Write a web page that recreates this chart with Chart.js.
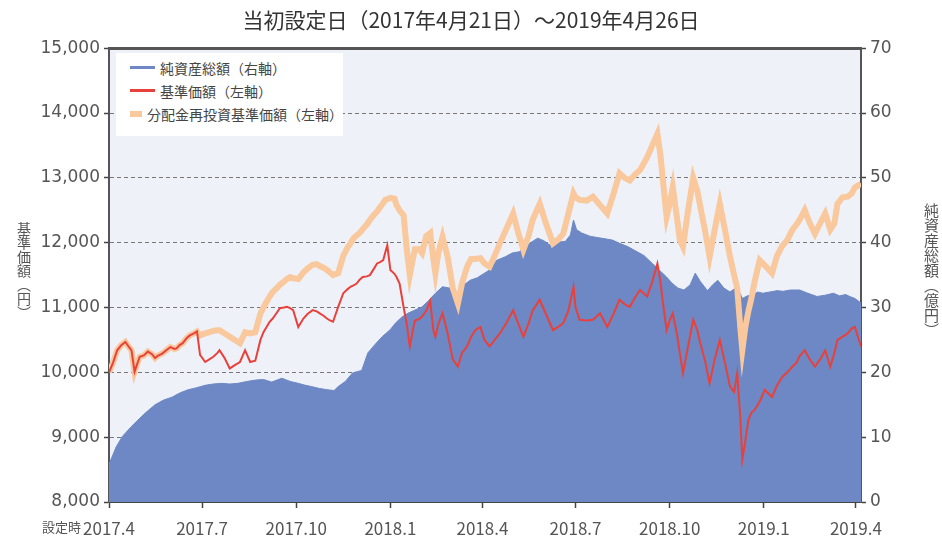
<!DOCTYPE html>
<html lang="ja">
<head>
  <meta charset="UTF-8" />
  <title>基準価額・純資産総額の推移</title>
  <script src="https://cdn.jsdelivr.net/npm/chart.js"></script>
  <style>
    body {
      margin: 0;
      background: #fff;
      font-family: "Noto Sans CJK JP", sans-serif;
    }

    .wrap {
      position: relative;
      width: 942px;
      height: 538px;
    }

    .legend {
      position: absolute;
      left: 116px;
      top: 53px;
      width: 227px;
      height: 83px;
      padding-top: 3px;
      box-sizing: border-box;
      background: #fff;
    }

    .legend-item {
      display: flex;
      align-items: center;
      height: 23px;
      padding-left: 14px;
      font-size: 14px;
      color: #444;
      white-space: nowrap;
    }

    .legend-item .swatch {
      display: inline-block;
      width: 25px;
      margin-right: 5px;
    }

    .axis-title {
      position: absolute;
      writing-mode: vertical-rl;
      color: #555;
    }

    .start-label {
      position: absolute;
      left: 42px;
      top: 520px;
      font-size: 13px;
      line-height: 1;
      color: #555;
    }
  </style>
</head>
<body>
  <div class="wrap">
    <canvas id="chart" width="942" height="538"></canvas>
    <div class="legend" id="legend"></div>
    <div class="axis-title" style="left: 14px; top: 222px; font-size: 14px;">基準価額（円）</div>
    <div class="axis-title" style="left: 921px; top: 203px; font-size: 15px;">純資産総額（億円）</div>
    <div class="start-label">設定時</div>
  </div>

  <script>
    // 設定日(2017/4/21)からの経過日数
    const lineDays = [0, 4, 8, 12, 16, 20, 22, 25, 28, 30, 34, 38, 42, 45, 48, 52, 56, 60, 64, 66,
      69, 72, 76, 79, 83, 86, 89, 94, 98, 102, 106, 108, 113, 118, 123, 128, 133, 138, 143, 148,
      151, 154, 157, 160, 164, 167, 171, 174, 177, 180, 185, 190, 194, 199, 203, 206, 210, 213, 216, 219,
      224, 229, 233, 236, 239, 242, 245, 248, 252, 255, 259, 262, 265, 268, 270, 272, 275, 279, 281, 284,
      288, 291, 294, 297, 299, 303, 306, 310, 314, 317, 319, 322, 326, 331, 336, 341, 345, 350, 354, 358,
      363, 367, 372, 377, 382, 388, 395, 400, 405, 410, 414, 421, 427, 434, 439, 444, 449, 454, 456, 460,
      467, 473, 480, 487, 493, 499, 504, 509, 514, 519, 526, 531, 536, 539, 541, 545, 548, 551, 555, 558,
      561, 566, 571, 575, 578, 583, 587, 592, 597, 602, 607, 611, 614, 617, 619, 622, 625, 628, 631, 636,
      641, 644, 648, 653, 658, 663, 668, 672, 675, 680, 685, 690, 695, 700, 705, 709, 712, 717, 722, 726,
      729, 732, 735];

    // 基準価額(円)
    const priceValues = [10000, 10150, 10340, 10420, 10470, 10380, 10340, 10010, 10150, 10240,
      10260, 10320, 10280, 10220, 10260, 10290, 10340, 10390, 10360, 10370,
      10420, 10450, 10530, 10570, 10600, 10630, 10270, 10160, 10200, 10240,
      10300, 10340, 10220, 10060, 10110, 10160, 10340, 10160, 10180, 10500,
      10620, 10700, 10780, 10830, 10920, 10990, 11000, 11010, 10990, 10960,
      10700, 10830, 10900, 10960, 10940, 10910, 10870, 10830, 10800, 10780,
      11010, 11220, 11280, 11320, 11340, 11370, 11430, 11470, 11480, 11500,
      11600, 11680, 11700, 11730, 11850, 11960, 11580, 11520, 11470, 11370,
      11000, 10750, 10400, 10650, 10800, 10820, 10860, 10950, 11100, 10650,
      10550, 10750, 10910, 10600, 10200, 10090, 10300, 10400, 10550, 10650,
      10700, 10500, 10400, 10500, 10600, 10750, 10960, 10750, 10550, 10750,
      10950, 11120, 10900, 10650, 10700, 10760, 10950, 11320, 11000, 10810,
      10800, 10810, 10910, 10700, 10900, 11120, 11050, 11010, 11150, 11270,
      11170, 11400, 11680, 11400, 11120, 10650, 10800, 10910, 10600, 10290,
      9990, 10400, 10810, 10650, 10450, 10150, 9830, 10200, 10500, 10150,
      9780, 9700, 9990, 9300, 8650, 8950, 9270, 9380, 9420, 9550,
      9730, 9680, 9620, 9800, 9930, 10000, 10090, 10150, 10250, 10340,
      10200, 10090, 10200, 10340, 10090, 10300, 10500, 10550, 10600, 10680,
      10700, 10550, 10400];

    // 分配金再投資基準価額(円)
    const reinvestValues = [10000, 10150, 10340, 10420, 10470, 10380, 10340, 10010, 10150, 10240,
      10260, 10320, 10280, 10220, 10260, 10290, 10340, 10390, 10360, 10370,
      10420, 10450, 10530, 10570, 10600, 10630, 10570, 10600, 10620, 10640,
      10650, 10650, 10600, 10550, 10500, 10450, 10620, 10600, 10620, 10910,
      11000, 11090, 11170, 11240, 11300, 11350, 11400, 11440, 11470, 11450,
      11440, 11540, 11600, 11660, 11670, 11640, 11610, 11580, 11540, 11500,
      11530, 11800, 11920, 11990, 12070, 12110, 12150, 12210, 12280, 12350,
      12430, 12480, 12550, 12610, 12660, 12670, 12690, 12680, 12580, 12500,
      12420, 11900, 11500, 11750, 11900, 11900, 11840, 12100, 12150, 11750,
      11530, 11850, 12090, 11780, 11300, 11060, 11370, 11630, 11750, 11750,
      11760, 11680, 11630, 11800, 11990, 12200, 12450, 12150, 11890, 12100,
      12350, 12600, 12300, 11990, 12050, 12140, 12450, 12760, 12700, 12660,
      12650, 12710, 12580, 12450, 12750, 13070, 13000, 12960, 13050, 13120,
      13320, 13500, 13680, 13350, 13020, 12400, 12600, 12860, 12400, 12040,
      11940, 12500, 13000, 12800, 12550, 12150, 11780, 12200, 12600, 12200,
      11780, 11500, 11300, 10700, 10340, 10700, 10950, 11150, 11400, 11730,
      11650, 11600, 11530, 11800, 11950, 12040, 12200, 12280, 12350, 12500,
      12300, 12140, 12300, 12450, 12200, 12300, 12600, 12700, 12710, 12760,
      12850, 12880, 12910];

    // 純資産総額(億円)
    const navDays = [0, 1, 7, 13, 21, 28, 36, 45, 53, 62, 69, 77, 85, 94, 102, 110, 118, 126, 135, 143,
      151, 159, 169, 177, 185, 192, 198, 206, 214, 220, 224, 231, 238, 247, 253, 260, 267, 275, 280, 286,
      292, 299, 306, 312, 319, 326, 333, 340, 347, 353, 360, 367, 372, 379, 387, 394, 401, 407, 412, 419,
      425, 433, 439, 446, 451, 454, 457, 462, 470, 477, 485, 492, 499, 507, 515, 523, 531, 539, 545, 550,
      556, 562, 568, 573, 578, 585, 590, 595, 601, 607, 614, 619, 624, 629, 634, 639, 646, 653, 659, 666,
      675, 683, 692, 700, 708, 714, 720, 724, 729, 735];
    const navValues = [6.0, 6.2, 8.5, 10.1, 11.5, 12.6, 13.8, 15.0, 15.7, 16.2, 16.8, 17.3, 17.6, 18.0, 18.2, 18.3, 18.2, 18.3, 18.6, 18.8,
      18.9, 18.5, 19.1, 18.6, 18.3, 18.0, 17.8, 17.5, 17.3, 17.2, 17.8, 18.6, 19.9, 20.3, 23.0, 24.3, 25.5, 26.6, 27.6, 28.5,
      29.1, 29.6, 30.1, 31.0, 32.2, 33.2, 33.0, 31.8, 33.5, 34.2, 34.6, 35.3, 35.8, 37.3, 37.8, 38.4, 38.6, 39.4, 40.0, 40.7,
      40.3, 39.4, 40.1, 40.2, 41.2, 43.5, 42.0, 41.5, 41.0, 40.8, 40.6, 40.4, 39.9, 39.4, 38.7, 38.0, 36.8, 35.6, 34.7, 33.8,
      33.0, 32.7, 33.5, 35.3, 34.0, 32.6, 33.5, 34.2, 33.0, 32.4, 33.2, 31.4, 31.8, 31.9, 32.4, 32.2, 32.4, 32.6, 32.5, 32.7,
      32.7, 32.2, 31.7, 31.9, 32.2, 31.8, 32.0, 31.7, 31.4, 30.7];

    const tickDays = [0, 91, 183, 275, 365, 456, 548, 640, 730];
    const tickLabels = ['2017.4', '2017.7', '2017.10', '2018.1', '2018.4', '2018.7', '2018.10', '2019.1', '2019.4'];

    const textColor = '#555';
    const xTickFont = { family: '"Noto Sans CJK JP", sans-serif', size: 17 };
    const yTickFont = { family: '"DejaVu Sans", sans-serif', size: 17 };

    function toPoints(xs, ys) {
      return xs.map((x, i) => ({ x: x, y: ys[i] }));
    }

    // プロット領域の背景
    const plotBackground = {
      id: 'plotBackground',
      beforeDraw(chart) {
        const { ctx, chartArea: a } = chart;
        ctx.save();
        ctx.fillStyle = '#eff1f8';
        ctx.fillRect(a.left, a.top, a.right - a.left, a.bottom - a.top);
        ctx.restore();
      }
    };

    const chart = new Chart(document.getElementById('chart'), {
      type: 'line',
      data: {
        datasets: [
          {
            label: '純資産総額（右軸）',
            data: toPoints(navDays, navValues),
            yAxisID: 'yRight',
            fill: 'origin',
            backgroundColor: '#6d88c4',
            borderColor: '#6d88c4',
            borderWidth: 1,
            pointRadius: 0,
            order: 3
          },
          {
            label: '基準価額（左軸）',
            data: toPoints(lineDays, priceValues),
            yAxisID: 'yLeft',
            fill: false,
            borderColor: '#e8413c',
            borderWidth: 2,
            pointRadius: 0,
            order: 1
          },
          {
            label: '分配金再投資基準価額（左軸）',
            data: toPoints(lineDays, reinvestValues),
            yAxisID: 'yLeft',
            fill: false,
            borderColor: '#f9c89c',
            borderWidth: 6,
            pointRadius: 0,
            order: 2
          }
        ]
      },
      options: {
        responsive: false,
        animation: false,
        devicePixelRatio: 1,
        layout: { padding: 0 },
        plugins: {
          legend: { display: false },
          tooltip: { enabled: false },
          title: {
            display: true,
            text: '当初設定日（2017年4月21日）～2019年4月26日',
            color: '#333',
            font: { family: '"Noto Sans CJK JP", sans-serif', size: 21, weight: 'normal' },
            padding: { top: 7, bottom: 16 }
          }
        },
        scales: {
          x: {
            type: 'linear',
            min: 0,
            max: 735,
            afterBuildTicks: scale => {
              scale.ticks = tickDays.map(v => ({ value: v }));
            },
            afterFit: scale => { scale.height = 36; },
            ticks: {
              autoSkip: false,
              maxRotation: 0,
              padding: 10,
              color: textColor,
              font: xTickFont,
              callback: (value, index) => tickLabels[index]
            },
            grid: { drawOnChartArea: false, tickLength: 6, tickColor: '#444', tickWidth: 1.5 },
            border: { color: '#444', width: 2 }
          },
          yLeft: {
            position: 'left',
            min: 8000,
            max: 15000,
            afterFit: scale => { scale.width = 109; },
            ticks: {
              stepSize: 1000,
              padding: 4,
              color: textColor,
              font: yTickFont,
              callback: v => v.toLocaleString('en-US')
            },
            grid: {
              color: c => c.tick && c.tick.value === 8000 ? 'rgba(0,0,0,0)' : (c.tick && c.tick.value === 15000 ? '#555' : '#777'),
              lineWidth: c => c.tick && c.tick.value === 15000 ? 3 : 1,
              tickLength: 5,
              tickColor: '#444',
              tickWidth: 1.5
            },
            border: {
              color: '#555',
              width: 2,
              dash: c => c.tick && c.tick.value === 15000 ? [] : [4, 3]
            }
          },
          yRight: {
            position: 'right',
            min: 0,
            max: 70,
            afterFit: scale => { scale.width = 81; },
            ticks: {
              stepSize: 10,
              padding: 4,
              color: textColor,
              font: yTickFont
            },
            grid: { drawOnChartArea: false, tickLength: 5, tickColor: '#444', tickWidth: 1.5 },
            border: { color: '#555', width: 2 }
          }
        }
      },
      plugins: [plotBackground]
    });

    // 凡例(グラフ内の白枠)
    const legend = document.getElementById('legend');
    chart.data.datasets.forEach(ds => {
      const item = document.createElement('div');
      item.className = 'legend-item';
      const swatch = document.createElement('span');
      swatch.className = 'swatch';
      swatch.style.height = (ds.fill ? 3 : Math.max(ds.borderWidth, 3)) + 'px';
      swatch.style.background = ds.fill ? ds.backgroundColor : ds.borderColor;
      item.appendChild(swatch);
      item.appendChild(document.createTextNode(ds.label));
      legend.appendChild(item);
    });
  </script>
</body>
</html>
